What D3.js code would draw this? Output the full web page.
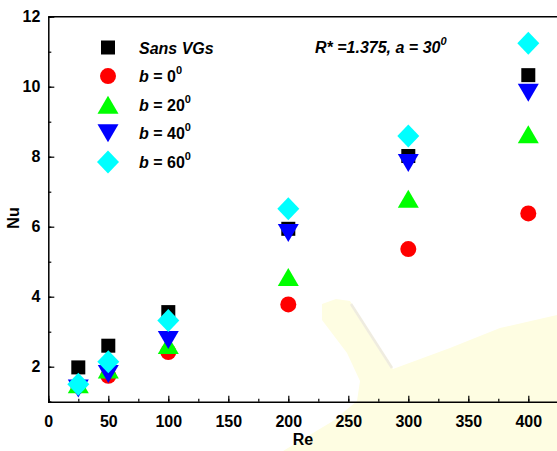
<!DOCTYPE html>
<html>
<head>
<meta charset="utf-8">
<script src="https://cdn.jsdelivr.net/npm/d3@7/dist/d3.min.js"></script>
<style>
  body { margin: 0; background: #fff; }
  svg { display: block; font-family: "Liberation Sans", Arial, sans-serif; }
</style>
</head>
<body>
<div id="chart"></div>
<script>
// data
const reValues = [25, 50, 100, 200, 300, 400];
const sansVGs = [1.98, 2.6, 3.56, 5.94, 8.02, 10.33];
const b0 = [1.45, 1.74, 2.42, 3.78, 5.36, 6.38];
const b20 = [1.5, 1.92, 2.62, 4.56, 6.8, 8.64];
const b40 = [1.38, 1.79, 2.76, 5.82, 7.82, 9.83];
const b60 = [1.5, 2.14, 3.32, 6.51, 8.59, 11.24];
const seriesNames = ["Sans VGs", "0", "20", "40", "60"];
const xTicks = [0, 50, 100, 150, 200, 250, 300, 350, 400];
const yTicks = [2, 4, 6, 8, 10, 12];

const W = 557, H = 451;
const svg = d3.select("#chart").append("svg")
    .attr("width", W)
    .attr("height", H);

const x = d3.scaleLinear().domain([0, 425]).range([48.3, 558.3]);
const y = d3.scaleLinear().domain([1, 12]).range([401.7, 16.7]);

// faint background picture (pale yellow blob)
svg.append("path")
    .attr("d", "M322,304 L336,299 L350,301 L393,369 L450,348 L500,328 L557,315 L557,451 L283,451 L333,421 L357,401 L360,381 L347,353 L322,320 Z")
    .attr("fill", "#fefde2");
svg.append("path")
    .attr("d", "M351,304 L392,368")
    .attr("stroke", "#efece0")
    .attr("stroke-width", 2.5)
    .attr("fill", "none");

// frame
const g = svg.append("g");
g.append("line").attr("x1", x(0)).attr("x2", x(425)).attr("y1", y(12)).attr("y2", y(12))
  .attr("stroke", "#000").attr("stroke-width", 1.5);

// x axis, ticks inward
g.append("g")
    .attr("transform", "translate(0," + y(1) + ")")
    .call(d3.axisBottom(x).tickValues(d3.range(0, 426, 25)).tickSize(-3).tickFormat(""))
    .call(a => a.select(".domain").attr("stroke-width", 1.5))
    .call(a => a.selectAll(".tick line").attr("stroke-width", 1.2));
g.append("g")
    .attr("transform", "translate(0," + y(1) + ")")
    .call(d3.axisBottom(x).tickValues(xTicks).tickSize(-6).tickPadding(14))
    .call(a => a.select(".domain").remove())
    .call(a => a.selectAll(".tick line").attr("stroke-width", 1.2))
    .call(a => a.selectAll("text").attr("font-size", 16).attr("font-weight", "bold")
      .attr("font-family", "Liberation Sans, Arial, sans-serif").attr("fill", "#000"));

// y axis, ticks inward
g.append("g")
    .attr("transform", "translate(" + x(0) + ",0)")
    .call(d3.axisLeft(y).tickValues(d3.range(1, 12.1, 1)).tickSize(-3).tickFormat(""))
    .call(a => a.select(".domain").attr("stroke-width", 1.5))
    .call(a => a.selectAll(".tick line").attr("stroke-width", 1.2));
g.append("g")
    .attr("transform", "translate(" + x(0) + ",0)")
    .call(d3.axisLeft(y).tickValues(yTicks).tickSize(-6).tickPadding(8))
    .call(a => a.select(".domain").remove())
    .call(a => a.selectAll(".tick line").attr("stroke-width", 1.2))
    .call(a => a.selectAll("text").attr("font-size", 16).attr("font-weight", "bold")
      .attr("font-family", "Liberation Sans, Arial, sans-serif").attr("fill", "#000"));

// axis titles
svg.append("text")
    .attr("x", 303).attr("y", 445)
    .attr("text-anchor", "middle")
    .attr("font-size", 16).attr("font-weight", "bold")
    .text("Re");
svg.append("text")
    .attr("transform", "translate(19,218) rotate(-90)")
    .attr("text-anchor", "middle")
    .attr("font-size", 16).attr("font-weight", "bold")
    .text("Nu");

// marker shapes
const shapes = {
  square: "M-7,-7H7V7H-7Z",
  circle: "M8,0A8,8 0 1,1 -8,0A8,8 0 1,1 8,0Z",
  up: "M0,-9L10.5,9L-10.5,9Z",
  down: "M0,9L10.5,-9L-10.5,-9Z",
  diamond: "M0,-11.5L11,0L0,11.5L-11,0Z"
};

const series = [
  {name: seriesNames[0], values: sansVGs, color: "#000000", shape: shapes.square},
  {name: seriesNames[1], values: b0, color: "#ff0000", shape: shapes.circle},
  {name: seriesNames[2], values: b20, color: "#00ff00", shape: shapes.up},
  {name: seriesNames[3], values: b40, color: "#0000ff", shape: shapes.down},
  {name: seriesNames[4], values: b60, color: "#00ffff", shape: shapes.diamond}
];

series.forEach(function(s) {
  svg.append("g").selectAll("path")
    .data(s.values.map((v, i) => ({re: reValues[i], nu: v})))
    .enter().append("path")
      .attr("d", s.shape)
      .attr("transform", d => "translate(" + x(d.re) + "," + y(d.nu) + ")")
      .attr("fill", s.color);
});

// legend
const legend = svg.append("g");
series.forEach(function(s, i) {
  const ly = 47.5 + i * 28.6;
  legend.append("path")
    .attr("d", s.shape)
    .attr("transform", "translate(108," + ly + ")")
    .attr("fill", s.color);
  const t = legend.append("text")
    .attr("x", 139).attr("y", ly + 6)
    .attr("font-size", 16).attr("font-weight", "bold");
  if (i === 0) {
    t.attr("font-style", "italic").text(s.name);
  } else {
    t.append("tspan").attr("font-style", "italic").text("b");
    t.append("tspan").text(" = " + s.name);
    t.append("tspan").attr("font-size", 11).attr("dy", -8).text("0");
  }
});

// annotation
const note = svg.append("text")
    .attr("x", 315).attr("y", 53)
    .attr("font-size", 16).attr("font-weight", "bold").attr("font-style", "italic");
note.append("tspan").text("R* =1.375, a = 30");
note.append("tspan").attr("font-size", 11).attr("dy", -8).text("0");
</script>
</body>
</html>
